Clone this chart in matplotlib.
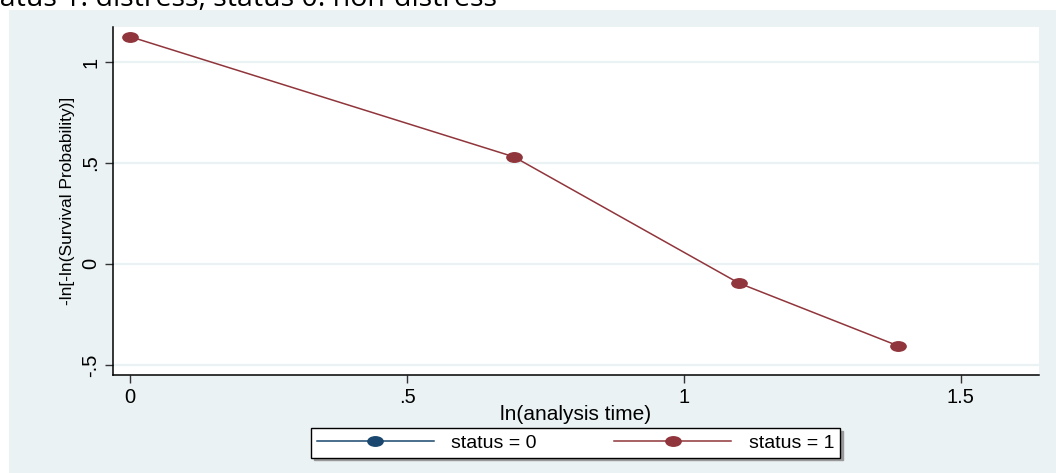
import matplotlib
matplotlib.use('Agg')
import matplotlib.pyplot as plt
import numpy as np
from matplotlib.patches import Rectangle
from matplotlib.path import Path

plt.rcParams['font.family'] = ['Liberation Sans', 'DejaVu Sans']

# data
ln_time_1 = [0.0, 0.693, 1.099, 1.386]
lnln_surv_1 = [1.125, 0.53, -0.095, -0.405]
ln_time_0 = []      # status = 0 has no plotted points
lnln_surv_0 = []

xticks = [0, 0.5, 1, 1.5]
xticklabels = ['0', '.5', '1', '1.5']
yticks = [-0.5, 0, 0.5, 1]
yticklabels = ['-.5', '0', '.5', '1']

bg = '#EAF2F3'
navy = '#1a476f'
maroon = '#90353b'

W, H = 1056, 473
fig = plt.figure(figsize=(W / 100, H / 100), dpi=100, facecolor='white')

# stata-like gray graph region (white strip at top / left)
fig.patches.append(Rectangle((9 / W, 0), 1, 1 - 10 / H, transform=fig.transFigure,
                             facecolor=bg, edgecolor='none', zorder=-10))

# caption of the document, cut off at the top like in the screenshot
fig.text(-24 / W, 1 - 6 / H, 'status 1: distress, status 0: non-distress',
         fontsize=20.5, fontweight='medium', ha='left', va='baseline', color='black',
         family=['Open Sans', 'Liberation Sans'])

ax = fig.add_axes([113 / W, 1 - 375 / H, (1039 - 113) / W, (375 - 27) / H])
ax.set_facecolor('white')

# ellipse-ish marker, like the reference
circ = Path.unit_circle()
ell = Path(circ.vertices * np.array([1.0, 0.62]), circ.codes)

ax.plot(ln_time_0, lnln_surv_0, color=navy, lw=1.1, marker=ell, ms=11,
        label='status = 0')
ax.plot(ln_time_1, lnln_surv_1, color=maroon, lw=1.1, marker=ell, ms=11,
        label='status = 1', clip_on=False, zorder=3)

ax.set_xlim(-0.031, 1.641)
ax.set_ylim(-0.55, 1.173)
ax.set_xticks(xticks)
ax.set_xticklabels(xticklabels)
ax.set_yticks(yticks)
ax.set_yticklabels(yticklabels, rotation=90, va='center')
ax.tick_params(axis='both', direction='out', length=6, width=1, color='#333333',
               labelsize=14.5, pad=3)
ax.yaxis.grid(True, color=bg, lw=1.6)
ax.set_axisbelow(True)

for s in ['top', 'right']:
    ax.spines[s].set_visible(False)
for s in ['left', 'bottom']:
    ax.spines[s].set_color('black')
    ax.spines[s].set_linewidth(1.1)

ax.set_xlabel('ln(analysis time)', fontsize=15, labelpad=-1)
ax.set_ylabel('-ln[-ln(Survival Probability)]', fontsize=12.5, labelpad=5)

leg = ax.legend(loc='center', bbox_to_anchor=(575.5 / W, 1 - 443 / H),
                bbox_transform=fig.transFigure, ncol=2, fontsize=14,
                handlelength=6.0, handletextpad=0.9, columnspacing=4.0,
                frameon=True, fancybox=False, borderpad=0.3,
                shadow={'color': '#999999', 'alpha': 1})
leg.get_frame().set_edgecolor('black')
leg.get_frame().set_linewidth(1.0)

fig.savefig('out.png', dpi=100, facecolor='white')
